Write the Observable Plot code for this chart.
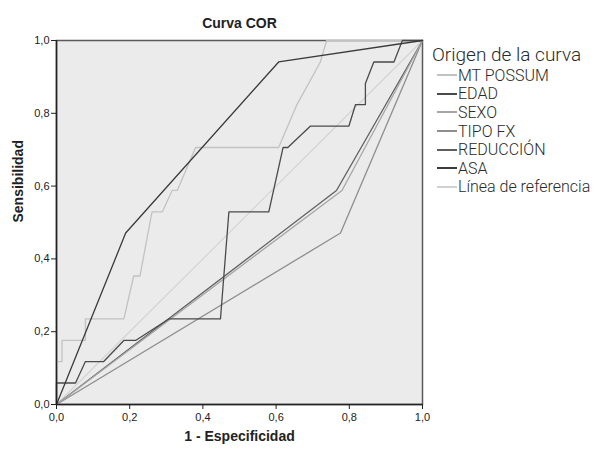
<!DOCTYPE html>
<html>
<head>
<meta charset="utf-8">
<script src="https://cdn.jsdelivr.net/npm/d3@7"></script>
<script src="https://cdn.jsdelivr.net/npm/@observablehq/plot@0.6"></script>
<style>
  html, body { margin: 0; padding: 0; background: #fff; }
  #wrap { position: relative; width: 596px; height: 450px; }
  #legend { position: absolute; left: 432px; top: 44px; font-family: Roboto, "Liberation Sans", sans-serif; font-weight: 300; color: #2a2a2a; white-space: nowrap; }
  #legend .ttl { font-size: 19px; line-height: 22px; margin-bottom: 0px; }
  #legend .item { display: flex; align-items: center; height: 18.6px; font-size: 16px; }
  #legend .sw { display: inline-block; width: 20px; height: 2px; margin-left: 5px; margin-right: 1px; }
</style>
</head>
<body>
<div id="wrap"><div id="chart"></div><div id="legend"></div></div>
<script>
// Tick values
const xTicks = [0, 0.2, 0.4, 0.6, 0.8, 1.0];
const yTicks = [0, 0.2, 0.4, 0.6, 0.8, 1.0];

// Series names and colours (legend order)
const seriesNames = ["MT POSSUM", "EDAD", "SEXO", "TIPO FX", "REDUCCIÓN", "ASA", "Línea de referencia"];
const seriesColors = ["#c2c2c2", "#4a4a4a", "#a6a6a6", "#8e8e8e", "#5e5e5e", "#3a3a3a", "#d2d2d2"];

// 1 - Especificidad (x) and Sensibilidad (y) for each curve
const mtPossumX = [0, 0, 0.015, 0.015, 0.079, 0.079, 0.184, 0.211, 0.228, 0.25, 0.261, 0.289, 0.316, 0.33, 0.38, 0.607, 0.657, 0.721, 0.738, 1];
const mtPossumY = [0, 0.118, 0.118, 0.176, 0.176, 0.235, 0.235, 0.353, 0.353, 0.471, 0.529, 0.529, 0.588, 0.588, 0.706, 0.706, 0.824, 0.941, 1, 1];

const edadX = [0, 0, 0.052, 0.079, 0.129, 0.184, 0.216, 0.307, 0.448, 0.471, 0.58, 0.619, 0.632, 0.694, 0.799, 0.817, 0.844, 0.844, 0.867, 0.922, 0.945, 1];
const edadY = [0, 0.059, 0.059, 0.118, 0.118, 0.176, 0.176, 0.235, 0.235, 0.529, 0.529, 0.706, 0.706, 0.765, 0.765, 0.824, 0.824, 0.882, 0.941, 0.941, 1, 1];

const sexoX = [0, 0.78, 1];
const sexoY = [0, 0.588, 1];

const tipoFxX = [0, 0.776, 1];
const tipoFxY = [0, 0.471, 1];

const reduccionX = [0, 0.765, 1];
const reduccionY = [0, 0.588, 1];

const asaX = [0, 0.189, 0.607, 1];
const asaY = [0, 0.471, 0.941, 1];

const refX = [0, 1];
const refY = [0, 1];

const seriesX = [mtPossumX, edadX, sexoX, tipoFxX, reduccionX, asaX, refX];
const seriesY = [mtPossumY, edadY, sexoY, tipoFxY, reduccionY, asaY, refY];

const fmt = d => d.toFixed(1).replace(".", ",");
const FONT = "'Liberation Sans', Arial, sans-serif";

// draw order: reference first, then curves
const order = [6, 4, 3, 2, 0, 1, 5];
const lineMarks = order.map(i => {
  const data = seriesX[i].map((x, j) => ({x, y: seriesY[i][j]}));
  return Plot.line(data, {x: "x", y: "y", stroke: seriesColors[i], strokeWidth: i === 6 ? 1.1 : 1.3, curve: "linear"});
});

const chart = Plot.plot({
  width: 596,
  height: 450,
  marginLeft: 56,
  marginRight: 174,
  marginTop: 40,
  marginBottom: 46,
  style: {fontFamily: FONT, fontSize: "11px", color: "#222", background: "transparent", overflow: "visible"},
  x: {domain: [0, 1]},
  y: {domain: [0, 1]},
  marks: [
    Plot.frame({fill: "#ebebeb", stroke: "#5a5a5a", strokeWidth: 1.5}),
    ...lineMarks,
    Plot.ruleX([0], {stroke: "#222", strokeWidth: 1.5}),
    Plot.ruleY([0], {stroke: "#222", strokeWidth: 1.5}),
    Plot.axisX({ticks: xTicks, tickFormat: fmt, tickSize: 5, tickPadding: 4, label: null, stroke: "#222"}),
    Plot.axisY({ticks: yTicks, tickFormat: fmt, tickSize: 5, tickPadding: 2, label: null, stroke: "#222"}),
    Plot.text(["Curva COR"], {frameAnchor: "top", dy: -22, fontSize: 14, fontWeight: "bold", fill: "#222"}),
    Plot.text(["1 - Especificidad"], {frameAnchor: "bottom", dy: 36, fontSize: 14, fontWeight: "bold", fill: "#222"}),
    Plot.text(["Sensibilidad"], {frameAnchor: "left", dx: -38, rotate: -90, fontSize: 14, fontWeight: "bold", fill: "#222"})
  ]
});
document.getElementById("chart").appendChild(chart);

// Legend
const legend = document.getElementById("legend");
const t = document.createElement("div");
t.className = "ttl";
t.textContent = "Origen de la curva";
legend.appendChild(t);
seriesNames.forEach((name, i) => {
  const row = document.createElement("div");
  row.className = "item";
  const sw = document.createElement("span");
  sw.className = "sw";
  sw.style.background = seriesColors[i];
  const lab = document.createElement("span");
  lab.textContent = name;
  row.appendChild(sw);
  row.appendChild(lab);
  legend.appendChild(row);
});
</script>
</body>
</html>
